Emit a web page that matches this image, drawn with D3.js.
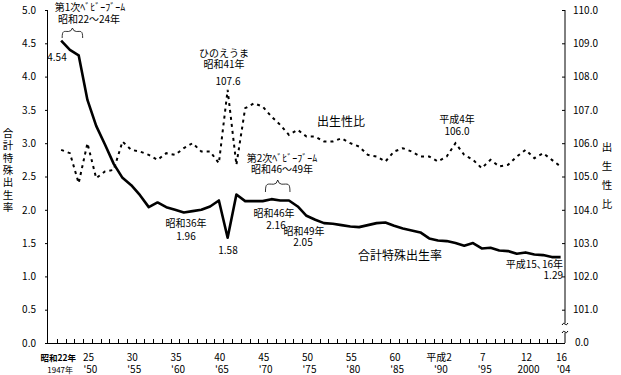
<!DOCTYPE html>
<html>
<head>
<meta charset="utf-8">
<script src="https://cdn.jsdelivr.net/npm/d3@7"></script>
<style>
  body { margin: 0; background: #fff; }
  text { font-family: "Noto Sans CJK JP", sans-serif; fill: #000; }
</style>
</head>
<body>
<svg id="chart" width="621" height="375"></svg>
<script>
// 1947..2004
const years = d3.range(1947, 2005);
const tfr = [4.54, 4.40, 4.32, 3.65, 3.26, 2.98, 2.69, 2.48, 2.37, 2.22,
  2.04, 2.11, 2.04, 2.00, 1.96, 1.98, 2.00, 2.05, 2.14, 1.58,
  2.23, 2.13, 2.13, 2.13, 2.16, 2.14, 2.14, 2.05, 1.91, 1.85,
  1.80, 1.79, 1.77, 1.75, 1.74, 1.77, 1.80, 1.81, 1.76, 1.72,
  1.69, 1.66, 1.57, 1.54, 1.53, 1.50, 1.46, 1.50, 1.42, 1.43,
  1.39, 1.38, 1.34, 1.36, 1.33, 1.32, 1.29, 1.29];
const sexRatio = [105.8, 105.7, 104.8, 106.0, 104.95, 105.15, 105.2, 106.05, 105.8, 105.75,
  105.65, 105.5, 105.7, 105.65, 105.85, 106.0, 105.75, 105.75, 105.4, 107.6,
  105.35, 107.05, 107.2, 107.1, 106.8, 106.55, 106.25, 106.4, 106.2, 106.2,
  106.05, 106.05, 106.15, 106.0, 105.9, 105.65, 105.6, 105.45, 105.75, 105.85,
  105.75, 105.6, 105.6, 105.45, 105.6, 106.0, 105.65, 105.5, 105.25, 105.5,
  105.3, 105.35, 105.6, 105.8, 105.55, 105.7, 105.5, 105.3];

const tickYears = [1947, 1950, 1955, 1960, 1965, 1970, 1975, 1980, 1985, 1990, 1995, 2000, 2004];
const tickEra = ["昭和22年", "25", "30", "35", "40", "45", "50", "55", "60", "平成2", "7", "12", "16"];
const tickWestern = ["1947年", "'50", "'55", "'60", "'65", "'70", "'75", "'80", "'85", "'90", "'95", "2000", "'04"];

const leftTicks = d3.range(0, 5.01, 0.5);
const rightTicks = d3.range(101, 110.01, 1);

const svg = d3.select("#chart");
const mLeft = 48, mRight = 565, mTop = 10, mBottom = 343;

// category axis: one band per year, 1946 is an empty slot
const x = d3.scaleBand().domain(d3.range(1946, 2005)).range([mLeft, mRight]);
const cx = d => x(d) + x.bandwidth() / 2;
const y = d3.scaleLinear().domain([0, 5]).range([mBottom, mTop]);
const y2 = d3.scaleLinear().domain([100, 110]).range([mBottom, mTop]);

// left axis
const gl = svg.append("g").attr("transform", `translate(${mLeft},0)`)
  .call(d3.axisLeft(y).tickValues(leftTicks).tickSize(3).tickPadding(9).tickFormat(d3.format(".1f")));
gl.select(".domain").attr("d", `M-0.5,${mTop}V${mBottom}`);

// right axis
const gr = svg.append("g").attr("transform", `translate(${mRight},0)`)
  .call(d3.axisRight(y2).tickValues(rightTicks).tickSize(-3).tickPadding(8).tickFormat(d3.format(".1f")));
gr.select(".domain").attr("d", `M0,${mTop}V${mBottom - 20}M0,${mBottom - 10}V${mBottom}`);
gr.append("text").attr("x", 10).attr("y", mBottom).attr("dy", "0.32em")
  .style("font-size", "10px").text("0.0");
// axis break marks
[mBottom - 19, mBottom - 11].forEach(yy => {
  gr.append("path").attr("d", `M-3,${yy + 1}q1.5,-3 3,-1t3,-1`)
    .attr("fill", "none").attr("stroke", "#000").attr("stroke-width", 1);
});

svg.selectAll(".tick text").style("font-size", "10px");
svg.selectAll(".tick line, .domain").attr("stroke", "#000");

// bottom axis with ticks at band boundaries pointing up
svg.append("line").attr("x1", mLeft).attr("x2", mRight).attr("y1", mBottom + 0.5).attr("y2", mBottom + 0.5)
  .attr("stroke", "#000");
svg.append("g").selectAll("line").data(d3.range(1947, 2005)).join("line")
  .attr("x1", d => Math.round(x(d)) + 0.5).attr("x2", d => Math.round(x(d)) + 0.5)
  .attr("y1", mBottom).attr("y2", mBottom - 4).attr("stroke", "#000");

const gx = svg.append("g");
tickYears.forEach((yr, i) => {
  const px = cx(yr) + (i === 0 ? -3 : 1);
  gx.append("text").attr("x", px).attr("y", 361).attr("text-anchor", "middle")
    .style("font-size", i === 0 ? "8.5px" : "10px").style("font-weight", i === 0 ? "bold" : "normal")
    .text(tickEra[i]);
  gx.append("text").attr("x", px + 2).attr("y", 373).attr("text-anchor", "middle")
    .style("font-size", i === 0 ? "8px" : "10px").text(tickWestern[i]);
});

// axis titles
svg.append("g").selectAll("text").data(Array.from("合計特殊出生率")).join("text")
  .attr("x", 8).attr("y", (d, i) => 137 + i * 12.3).attr("text-anchor", "middle")
  .style("font-size", "10.5px").text(d => d);
svg.append("g").selectAll("text").data(Array.from("出生性比")).join("text")
  .attr("x", 607).attr("y", (d, i) => 151 + i * 19).attr("text-anchor", "middle")
  .style("font-size", "10.5px").text(d => d);

// series
const lineTfr = d3.line().x((d, i) => cx(years[i])).y(d => y(d));
const lineSr = d3.line().x((d, i) => cx(years[i])).y(d => y2(d));

svg.append("path").datum(sexRatio).attr("d", lineSr)
  .attr("fill", "none").attr("stroke", "#000").attr("stroke-width", 2)
  .attr("stroke-dasharray", "3,4");
svg.append("path").datum(tfr).attr("d", lineTfr)
  .attr("fill", "none").attr("stroke", "#000").attr("stroke-width", 2.6)
  .attr("stroke-linejoin", "round");

// braces
function brace(x0, x1, yTop, yBot) {
  const xm = (x0 + x1) / 2, q = (yBot - yTop);
  return `M${x0},${yBot} C${x0},${yTop + q * 0.2} ${x0 + 2},${yTop + q * 0.35} ${xm - 4},${yTop + q * 0.35}` +
    ` Q${xm - 1},${yTop + q * 0.35} ${xm},${yTop}` +
    ` Q${xm + 1},${yTop + q * 0.35} ${xm + 4},${yTop + q * 0.35}` +
    ` C${x1 - 2},${yTop + q * 0.35} ${x1},${yTop + q * 0.2} ${x1},${yBot}`;
}
svg.append("path").attr("d", brace(cx(1947) + 1, cx(1949) + 4, 28, 38))
  .attr("fill", "none").attr("stroke", "#000").attr("stroke-width", 0.8);
svg.append("path").attr("d", brace(cx(1971) - 6, cx(1973) + 1, 180, 192))
  .attr("fill", "none").attr("stroke", "#000").attr("stroke-width", 0.8);

// annotations
const notes = [
  ["第1次ﾍﾞﾋﾞｰﾌﾞｰﾑ", 90, 11, "middle", 10],
  ["昭和22～24年", 89, 23, "middle", 10],
  ["4.54", 57, 61, "middle", 10],
  ["ひのえうま", 224, 57, "middle", 10],
  ["昭和41年", 224, 68, "middle", 10],
  ["107.6", 228, 85, "middle", 10],
  ["1.58", 228, 254, "middle", 10],
  ["昭和36年", 186, 227, "middle", 10],
  ["1.96", 186, 240, "middle", 10],
  ["第2次ﾍﾞﾋﾞｰﾌﾞｰﾑ", 282, 162, "middle", 10],
  ["昭和46～49年", 282, 173, "middle", 10],
  ["昭和46年", 274, 217, "middle", 10],
  ["2.16", 276, 229, "middle", 10],
  ["昭和49年", 304, 235, "middle", 10],
  ["2.05", 303, 246, "middle", 10],
  ["出生性比", 341, 126, "middle", 12],
  ["合計特殊出生率", 400, 260, "middle", 12],
  ["平成4年", 457, 123, "middle", 10],
  ["106.0", 457, 135, "middle", 10],
  ["平成15､16年", 563, 268, "end", 10],
  ["1.29", 563, 279, "end", 10]
];
svg.append("g").selectAll("text").data(notes).join("text")
  .attr("x", d => d[1]).attr("y", d => d[2]).attr("text-anchor", d => d[3])
  .style("font-size", d => d[4] + "px").text(d => d[0]);
</script>
</body>
</html>
